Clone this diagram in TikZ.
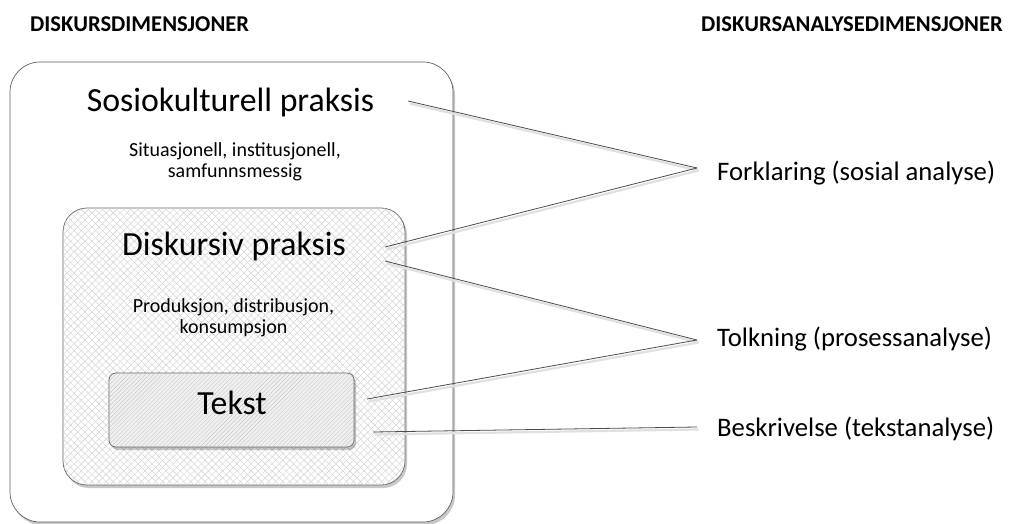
\documentclass[tikz,border=0pt]{standalone}
\usepackage{fontspec}
\setmainfont{Carlito}
\usetikzlibrary{shadows,patterns.meta}
\begin{document}
\begin{tikzpicture}[x=1pt,y=-1pt,
  frame/.style={draw=gray!75!black, line width=0.7pt, inner sep=0pt},
  softshadow/.style={drop shadow={shadow xshift=2pt, shadow yshift=-3pt, opacity=0.22, fill=black}},
  heading/.style={font=\bfseries\fontsize{22.6}{26}\selectfont, inner sep=0pt},
  big/.style={font=\fontsize{33.8}{38}\selectfont, inner sep=0pt},
  small/.style={font=\fontsize{20}{21}\selectfont, align=center, inner sep=0pt},
  side/.style={font=\fontsize{26.7}{30}\selectfont, anchor=west, inner sep=0pt},
  link/.style={draw=gray!60!black, line width=0.8pt},
  linkshade/.style={draw=black!12, line width=2.2pt}]
\useasboundingbox (0,0) rectangle (1010,524);

% column headings
\node[heading, anchor=west] (hleft) at (30,24) {DISKURSDIMENSJONER};
\node[heading, anchor=east] (hright) at (1003,24) {DISKURSANALYSEDIMENSJONER};

% nested practice boxes
\node[frame, rounded corners=30pt, fill=white, softshadow,
      minimum width=443pt, minimum height=460pt] (socio) at (231.5,292) {};
\node[frame, rounded corners=24pt, fill=white, softshadow,
      minimum width=342pt, minimum height=277pt,
      postaction={pattern={Lines[angle=45,distance=5pt,line width=0.45pt]}, pattern color=gray!35},
      postaction={pattern={Lines[angle=-45,distance=5pt,line width=0.45pt]}, pattern color=gray!35}]
      (diskursiv) at (234,346.5) {};
\node[frame, rounded corners=7pt, fill=gray!12, softshadow,
      minimum width=245pt, minimum height=74pt,
      postaction={pattern={Lines[angle=45,distance=3pt,line width=0.4pt]}, pattern color=gray!45}]
      (tekstbox) at (231.5,410) {};

% box texts
\node[big] (tsocio) at (230.5,102) {Sosiokulturell praksis};
\node[small] (dsocio) at (235,162) {Situasjonell, institusjonell,\\samfunnsmessig};
\node[big] (tdisk) at (234,246) {Diskursiv praksis};
\node[small] (ddisk) at (233.5,318) {Produksjon, distribusjon,\\konsumpsjon};
\node[big] (ttekst) at (232,403) {Tekst};

% analysis labels
\node[side] (forklaring) at (717,173) {Forklaring (sosial analyse)};
\node[side] (tolkning) at (717,339) {Tolkning (prosessanalyse)};
\node[side] (beskrivelse) at (717,429) {Beskrivelse (tekstanalyse)};

% connector ends
\coordinate (fk) at (697,168);
\coordinate (tk) at (697,340);
\coordinate (bk) at (697,427);
\coordinate (s1) at (408,101);
\coordinate (d1) at (385,247);
\coordinate (d2) at (385,261);
\coordinate (t1) at (367,399);
\coordinate (t2) at (373,432);

% connectors with faint shading
\foreach \a/\b in {s1/fk, d1/fk, d2/tk, t1/tk, t2/bk}
  \draw[linkshade] ([shift={(1.5,2.5)}]\a) -- ([shift={(1.5,2.5)}]\b);
\draw[link] (s1) -- (fk);
\draw[link] (d1) -- (fk);
\draw[link] (d2) -- (tk);
\draw[link] (t1) -- (tk);
\draw[link] (t2) -- (bk);
\end{tikzpicture}
\end{document}
